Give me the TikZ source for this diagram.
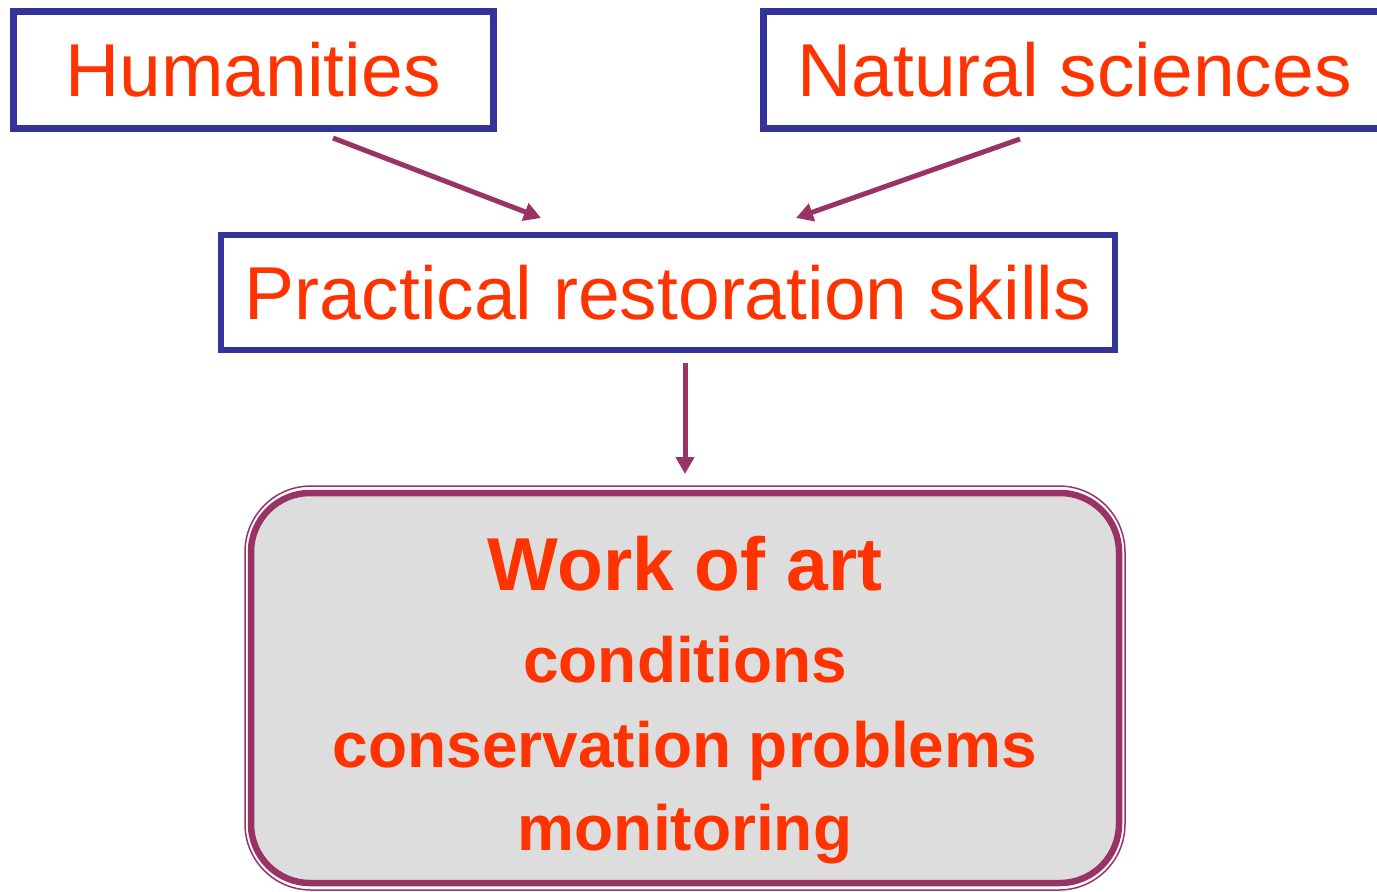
\documentclass[tikz,border=0pt]{standalone}
\usepackage{fontspec}
\setmainfont{Liberation Sans}
\usetikzlibrary{arrows.meta}
\definecolor{boxblue}{HTML}{333399}
\definecolor{txtred}{HTML}{FF3300}
\definecolor{arrowc}{HTML}{993366}
\definecolor{artfill}{HTML}{DDDDDD}
\tikzset{
  topbox/.style={draw=boxblue, line width=7pt, inner sep=0pt, outer sep=0pt, fill=white,
     text=txtred, font=\fontsize{75}{90}\selectfont},
  conn/.style={draw=arrowc, line width=5pt, -{Triangle[length=17pt,width=18pt]}},
  artbox/.style={draw=arrowc, line width=6.5pt, fill=artfill, rounded corners=59pt,
     inner sep=0pt, outer sep=0pt},
  artouter/.style={draw=arrowc, line width=1.5pt, rounded corners=66pt},
  bigtxt/.style={text=txtred, inner sep=0pt, anchor=base, font=\bfseries\fontsize{75}{90}\selectfont},
  smalltxt/.style={text=txtred, inner sep=0pt, anchor=base, font=\bfseries\fontsize{64}{76}\selectfont}
}
\begin{document}
\begin{tikzpicture}[x=1pt,y=-1pt]
\useasboundingbox (0,0) rectangle (1377,892);
\node[topbox, minimum width=480pt, minimum height=117pt] (hum) at (253,69.5) {Humanities};
\node[topbox, minimum width=622pt, minimum height=117pt] (nat) at (1074.5,69.5) {Natural sciences};
\node[topbox, line width=6pt, minimum width=894pt, minimum height=114.5pt] (prac) at (668,292.5) {Practical restoration skills};
% work of art box
\draw[artouter] (245,486) rectangle (1125,890);
\node[artbox, minimum width=868pt, minimum height=390pt] (art) at (685,688) {};
\node[bigtxt] (t1) at (685,590) {Work of art};
\node[smalltxt] (t2) at (685,682) {conditions};
\node[smalltxt] (t3) at (685,767) {conservation problems};
\node[smalltxt] (t4) at (685,850) {monitoring};
% connectors
\coordinate (h1) at (333,138);
\coordinate (p1) at (541,218);
\coordinate (n1) at (1020,139);
\coordinate (p2) at (796,218);
\draw[conn] (h1) -- (p1);
\draw[conn] (n1) -- (p2);
\draw[conn, shorten <=13pt, shorten >=19pt] (prac.south -| art.north) -- (art.north);
\end{tikzpicture}
\end{document}
